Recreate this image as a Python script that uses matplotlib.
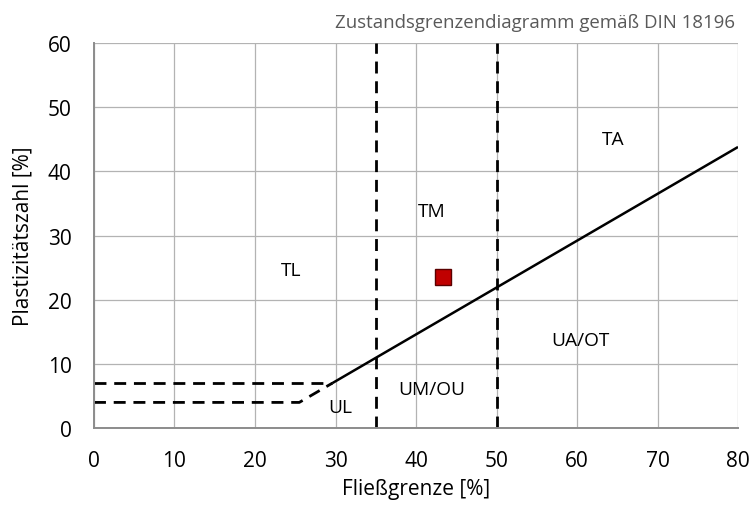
import numpy as np
import matplotlib.pyplot as plt

plt.rcParams['font.family'] = ['Open Sans', 'DejaVu Sans']

# A-line  Ip = 0.73 * (wL - 20), starting where Ip = 7
a_line_wl = [29.6, 80]
a_line_ip = [7.0, 43.8]

# lower boundary dashes (ST/UL zone)
upper_dash_wl = [0, 29.6]
upper_dash_ip = [7, 7]
lower_dash_wl = [0, 25.5, 29.6]
lower_dash_ip = [4, 4, 7]

# liquid limit boundaries
wl_bounds = [35, 50]

# sample
sample_wl = [43.4]
sample_ip = [23.6]

zone_names = ['TA', 'TM', 'TL', 'UA/OT', 'UM/OU', 'UL']
zone_wl = [64.5, 41.9, 24.5, 60.4, 42.0, 30.6]
zone_ip = [45.1, 33.9, 24.7, 13.8, 6.1, 3.3]

fig = plt.figure(figsize=(7.55, 5.06), dpi=100)
ax = fig.add_axes([0.1245, 0.152, 0.853, 0.761])

ax.set_xlim(0, 80)
ax.set_ylim(0, 60)
ax.set_xticks(range(0, 81, 10))
ax.set_yticks(range(0, 61, 10))
ax.grid(True, color='#b3b3b3', linewidth=0.9)
ax.set_axisbelow(True)
for side in ['top', 'right']:
    ax.spines[side].set_visible(False)
for side in ['left', 'bottom']:
    ax.spines[side].set_color('#8c8c8c')
    ax.spines[side].set_linewidth(1.4)
ax.tick_params(axis='x', length=0, labelsize=15, pad=15.5)
ax.tick_params(axis='y', length=0, labelsize=15, pad=16)

ax.plot(a_line_wl, a_line_ip, color='black', linewidth=1.8, solid_capstyle='butt')
ax.plot(upper_dash_wl, upper_dash_ip, color='black', linewidth=2.0, dashes=(4.3, 2.8))
ax.plot(lower_dash_wl, lower_dash_ip, color='black', linewidth=2.0, dashes=(4.3, 2.8))
for wl in wl_bounds:
    ax.plot([wl, wl], [0, 60], color='black', linewidth=2.0, dashes=(4.3, 2.8), clip_on=False)

ax.plot(sample_wl, sample_ip, marker='s', markersize=12, color='#c00000',
        markeredgecolor='#5a0000', markeredgewidth=1.0, linestyle='none', zorder=5)

for name, x, y in zip(zone_names, zone_wl, zone_ip):
    ax.text(x, y, name, ha='center', va='center', fontsize=13.8)

ax.set_xlabel('Fließgrenze [%]', fontsize=15, labelpad=5)
ax.set_ylabel('Plastizitätszahl [%]', fontsize=15, labelpad=10.5)

fig.text(0.9735, 0.955, 'Zustandsgrenzendiagramm gemäß DIN 18196', ha='right', va='center',
         fontsize=13.4, color='#595959')

fig.savefig('out.png', dpi=100)
